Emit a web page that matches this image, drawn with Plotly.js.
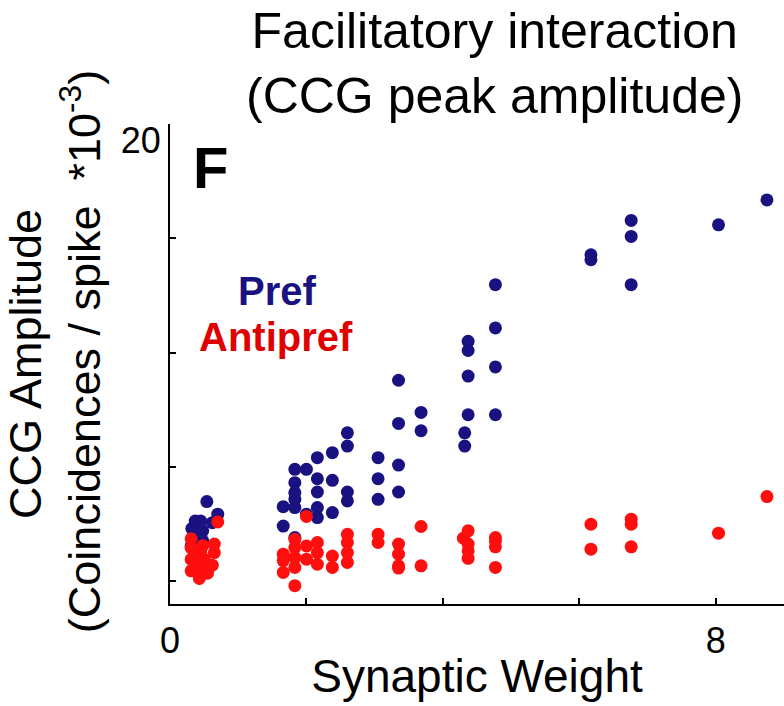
<!DOCTYPE html>
<html>
<head>
<meta charset="utf-8">
<script src="https://cdn.plot.ly/plotly-3.0.1.min.js"></script>
<style>
  html, body { margin: 0; padding: 0; background: #fff; }
</style>
</head>
<body>
<div id="myDiv" style="width:784px;height:706px;"></div>
<script>
// Pref pairs (navy)
const prefX = [0.54, 0.70, 0.62, 0.37, 0.45, 0.32, 0.40, 0.48, 0.36, 0.48, 0.31, 0.45, 0.36, 0.45,
  1.66, 1.66,
  1.83, 1.83, 1.83, 1.83, 1.83, 1.83,
  2.00, 2.00,
  2.16, 2.16, 2.16, 2.16, 2.16,
  2.38, 2.38, 2.38,
  2.60, 2.60, 2.60, 2.60,
  3.05, 3.05, 3.05,
  3.35, 3.35, 3.35, 3.35,
  3.68, 3.68,
  4.32, 4.32,
  4.37, 4.37, 4.37, 4.37,
  4.77, 4.77, 4.77, 4.77,
  6.17, 6.17,
  6.76, 6.76, 6.76,
  8.04, 8.75]
const prefY = [3.48, 2.93, 2.56, 2.63, 2.63, 2.30, 2.30, 2.20, 1.91, 1.76, 1.54, 1.25, 0.82, 0.60,
  3.26, 2.41,
  4.89, 4.31, 3.87, 3.58, 3.22, 1.91,
  4.89, 2.93,
  5.40, 4.48, 3.90, 3.22, 2.78,
  5.62, 4.41, 3.00,
  6.49, 5.91, 3.90, 3.51,
  5.40, 4.48, 3.58,
  8.79, 6.90, 5.08, 3.90,
  7.38, 6.58,
  6.49, 5.91,
  10.49, 10.09, 8.97, 7.28,
  12.97, 11.08, 9.37, 7.28,
  14.28, 14.06,
  15.78, 15.08, 12.97,
  15.59, 16.68]

// Antipref pairs (red)
const antiX = [0.70, 0.31, 0.31, 0.31, 0.31, 0.36, 0.43, 0.45, 0.48, 0.50, 0.43, 0.55, 0.62, 0.65, 0.65,
  1.66, 1.66, 1.66,
  1.83, 1.83, 1.83, 1.83, 1.83,
  2.00, 2.00, 2.00,
  2.16, 2.16, 2.16,
  2.38, 2.38,
  2.60, 2.60, 2.60, 2.60,
  3.05, 3.05,
  3.35, 3.35, 3.35, 3.35,
  3.68, 3.68,
  4.30, 4.37, 4.37, 4.37, 4.37,
  4.77, 4.77, 4.77, 4.77,
  6.17, 6.17,
  6.76, 6.76, 6.76,
  8.04, 8.75]
const antiY = [2.59, 1.85, 1.45, 0.95, 0.45, 1.10, 0.12, 1.25, 1.55, 0.96, 0.67, 0.35, 0.70, 1.62, 1.25,
  1.18, 0.90, 0.38,
  1.83, 1.47, 1.03, 0.60, -0.20,
  2.83, 1.54, 0.96,
  1.69, 1.25, 0.74,
  1.10, 0.60,
  2.05, 1.69, 1.25, 0.82,
  2.05, 1.69,
  1.62, 1.18, 0.67, 0.57,
  2.39, 0.67,
  1.88, 2.20, 1.62, 1.32, 1.00,
  1.91, 1.76, 1.50, 0.60,
  2.49, 1.40,
  2.71, 2.49, 1.50,
  2.10, 3.70]

const xTicks = [0, 2, 4, 6, 8]
const xTickText = ["0", "", "", "", "8"]
const yTicks = [0, 5, 10, 15, 20]
const yTickText = ["", "", "", "", "20"]

const navy = "#1b1281"
const red = "#ff0e0e"
const font = "Liberation Sans, Arial, sans-serif"

const trace1 = {
  x: prefX,
  y: prefY,
  mode: "markers",
  type: "scatter",
  name: "Pref",
  marker: { color: navy, size: 13 },
}
const trace2 = {
  x: antiX,
  y: antiY,
  mode: "markers",
  type: "scatter",
  name: "Antipref",
  marker: { color: red, size: 13 },
}
const data = [trace1, trace2]

const layout = {
  width: 784,
  height: 706,
  margin: { l: 170, r: 0, t: 124, b: 102 },
  showlegend: false,
  paper_bgcolor: "#fff",
  plot_bgcolor: "#fff",
  font: { family: font, color: "#000", size: 36 },
  title: {
    text: "Facilitatory interaction<br>(CCG peak amplitude)",
    font: { size: 50 },
    x: 0.631,
    xanchor: "center",
    y: 0.932,
    yanchor: "middle",
  },
  xaxis: {
    range: [0, 9],
    tickvals: xTicks,
    ticktext: xTickText,
    ticks: "inside",
    ticklen: 6,
    tickwidth: 2,
    tickcolor: "#000",
    showline: true,
    linecolor: "#000",
    linewidth: 2,
    showgrid: false,
    zeroline: false,
    ticklabelstandoff: 4,
    title: { text: "Synaptic Weight", font: { size: 46 }, standoff: 0 },
  },
  yaxis: {
    range: [-1, 20],
    tickvals: yTicks,
    ticktext: yTickText,
    ticks: "inside",
    ticklen: 6,
    tickwidth: 2,
    tickcolor: "#000",
    showline: true,
    linecolor: "#000",
    linewidth: 2,
    showgrid: false,
    zeroline: false,
    ticklabelshift: 16,
    title: {
      text: "CCG Amplitude<br>&nbsp;&nbsp;(Coincidences / spike  *10<sup>-3</sup>)",
      font: { size: 45 },
      standoff: 28,
    },
  },
  annotations: [
    { x: 0.035, y: 18.1, xref: "paper", yref: "y", xanchor: "left", yanchor: "middle",
      text: "<b>F</b>", showarrow: false, font: { size: 58 } },
    { x: 1.57, y: 12.7, xref: "x", yref: "y", text: "<b>Pref</b>", showarrow: false,
      font: { size: 40, color: navy } },
    { x: 1.55, y: 10.7, xref: "x", yref: "y", text: "<b>Antipref</b>", showarrow: false,
      font: { size: 40, color: "#e00000" } },
  ],
}

Plotly.newPlot("myDiv", data, layout, { displayModeBar: false })
</script>
</body>
</html>
